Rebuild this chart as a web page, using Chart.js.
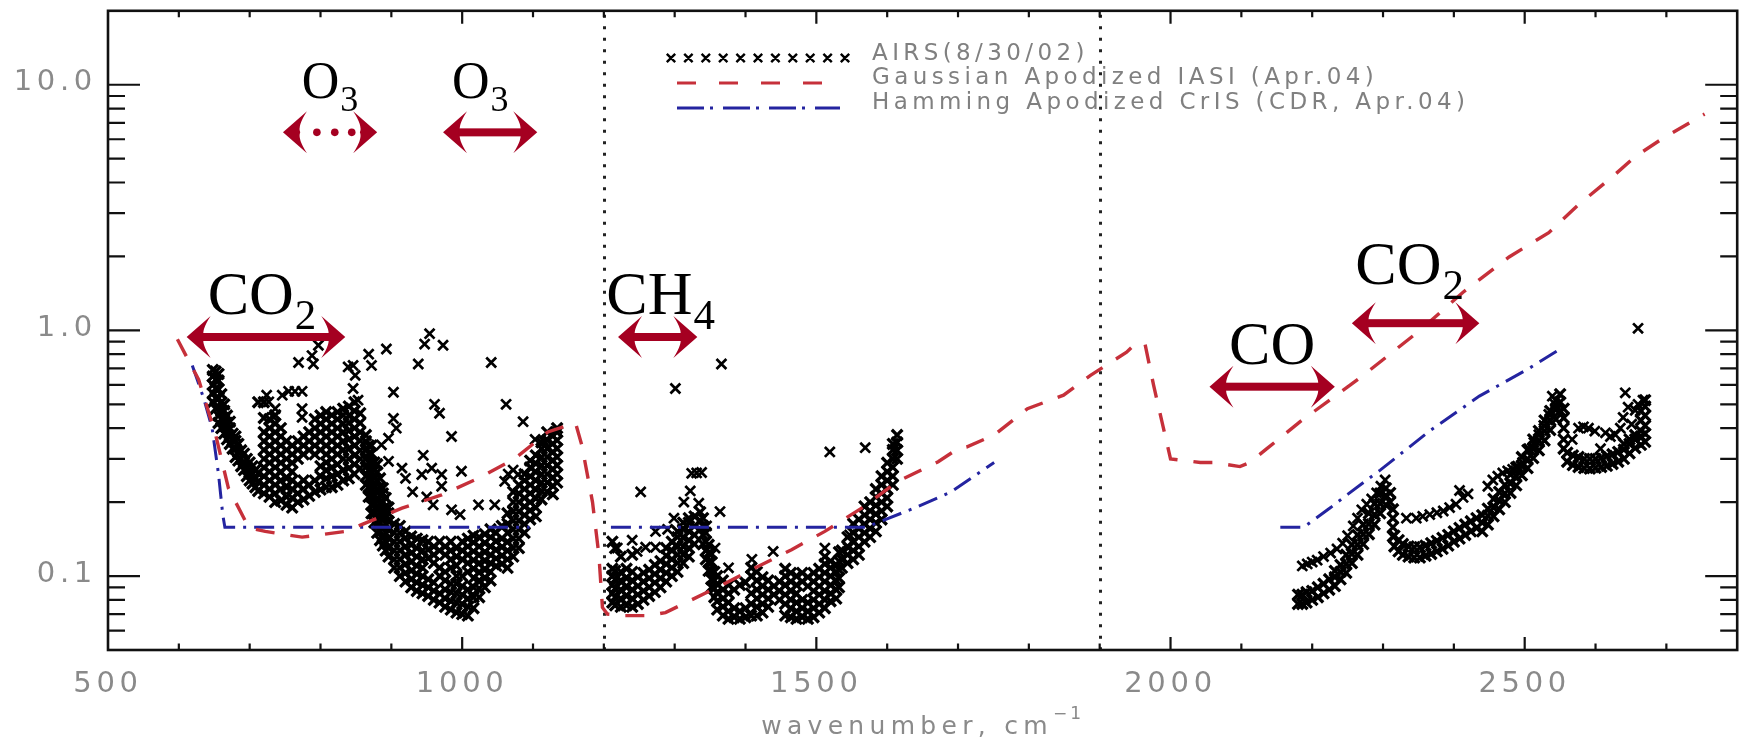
<!DOCTYPE html>
<html>
<head>
<meta charset="utf-8">
<title>Instrument noise vs wavenumber: AIRS, IASI, CrIS</title>
<script src="https://cdn.jsdelivr.net/npm/chart.js@4.4.1/dist/chart.umd.min.js"></script>
<style>
  html, body { margin: 0; padding: 0; background: #ffffff; }
  #wrap { width: 1748px; height: 744px; }
</style>
</head>
<body>
<div id="wrap"><canvas id="c" width="1748" height="744"></canvas></div>
<script>
// ---------- axes ----------
const xTicks = [500, 1000, 1500, 2000, 2500];
const yTicks = [0.1, 1, 10];
const yTickText = ['0.1', '1.0', '10.0'];
const bandEdges = [1200, 1900];            // dotted separators between spectral bands
const xTitle = 'wavenumber, cm';
const xTitleSup = '\u22121';
const legendLabels = ['AIRS(8/30/02)', 'Gaussian Apodized IASI (Apr.04)', 'Hamming Apodized CrIS (CDR, Apr.04)'];

// ---------- IASI, Gaussian apodized: [wavenumber, value] ----------
const iasiGaussian = [[598,0.92],[628,0.63],[652,0.375],[670,0.228],[699,0.157],[722,0.152],[774,0.144],[835,0.152],[858,0.162],[915,0.189],[971,0.214],[1023,0.25],[1074,0.30],[1121,0.386],[1155,0.415],[1160,0.42],[1169,0.34],[1184,0.20],[1193,0.122],[1198,0.0745],[1205,0.07],[1230,0.069],[1263,0.069],[1287,0.071],[1320,0.079],[1367,0.092],[1414,0.108],[1465,0.128],[1512,0.152],[1564,0.189],[1615,0.243],[1672,0.292],[1700,0.33],[1712,0.335],[1751,0.375],[1798,0.48],[1849,0.545],[1887,0.656],[1938,0.815],[1950,0.88],[1964,0.88],[1976,0.60],[1990,0.40],[2000,0.30],[2042,0.29],[2060,0.29],[2098,0.279],[2112,0.29],[2136,0.33],[2183,0.425],[2272,0.656],[2352,1.0],[2413,1.43],[2478,1.99],[2534,2.5],[2576,3.25],[2623,4.2],[2656,5.1],[2693,6.0],[2754,7.6]];

// ---------- CrIS, Hamming apodized, three bands ----------
const crisLW = [[619,0.72],[635,0.53],[647,0.40],[656,0.26],[662,0.178],[665,0.158],[1095,0.158]];
const crisMW = [[1210,0.158],[1570,0.158],[1640,0.19],[1690,0.22],[1751,0.29]];
const crisSW = [[2155,0.158],[2188,0.158],[2226,0.19],[2250,0.215],[2296,0.27],[2366,0.39],[2436,0.54],[2506,0.70],[2550,0.84]];

// ---------- AIRS channels: [wavenumber, values at that wavenumber...] ----------
const airsLW = [
[648,0.51,0.555,0.60,0.65,0.69],[652,0.48,0.53,0.58,0.63,0.68],[656,0.42,0.45,0.49,0.53,0.575,0.625,0.665],
[660,0.40,0.435,0.47,0.51,0.55],[664,0.38,0.41,0.44,0.47,0.50],[668,0.36,0.39,0.42,0.45],
[672,0.345,0.37,0.40,0.425],[676,0.33,0.355,0.38],[680,0.305,0.33,0.355,0.37],[684,0.295,0.32,0.345],
[688,0.28,0.30,0.325],[692,0.27,0.29,0.315],[696,0.255,0.275,0.30],[700,0.245,0.265,0.29],
[704,0.238,0.26,0.28],[708,0.23,0.25,0.27],[712,0.222,0.242,0.262,0.51],
[720,0.217,0.235,0.255,0.277,0.30,0.326,0.354,0.385,0.44,0.51],
[728,0.21,0.226,0.245,0.266,0.289,0.313,0.34,0.37,0.40,0.435],
[736,0.20,0.217,0.235,0.255,0.277,0.30,0.326,0.354,0.385,0.417,0.452],
[744,0.203,0.226,0.245,0.266,0.289,0.313,0.34,0.37,0.40],
[752,0.195,0.21,0.23,0.25,0.277,0.30,0.326,0.354],
[760,0.19,0.208,0.226,0.245,0.266,0.289,0.313,0.34],
[768,0.20,0.217,0.235,0.30,0.326,0.354],[776,0.205,0.226,0.245,0.313,0.34,0.37],
[784,0.212,0.235,0.326,0.354,0.385],[792,0.22,0.245,0.313,0.34,0.37,0.40,0.435],
[800,0.225,0.255,0.28,0.326,0.354,0.385,0.417,0.45],
[808,0.23,0.25,0.27,0.29,0.313,0.34,0.37,0.40,0.435,0.465],
[816,0.23,0.255,0.277,0.30,0.326,0.354,0.385,0.417,0.452],
[824,0.235,0.26,0.285,0.313,0.34,0.37,0.40,0.435,0.465],
[832,0.245,0.27,0.30,0.326,0.354,0.385,0.417,0.452,0.48],
[840,0.25,0.275,0.30,0.33,0.36,0.39,0.42,0.45,0.49],
[848,0.26,0.285,0.31,0.34,0.37,0.40,0.435,0.47,0.51],
[856,0.275,0.30,0.325,0.355,0.385,0.42,0.46],
[864,0.235,0.255,0.277,0.30,0.326,0.354,0.375],
[868,0.21,0.23,0.25,0.27,0.29,0.315,0.34],
[872,0.18,0.195,0.21,0.228,0.247,0.267,0.29,0.315,0.34],
[876,0.165,0.18,0.195,0.212,0.23,0.25,0.27,0.29],
[880,0.15,0.163,0.177,0.192,0.208,0.226,0.245,0.265,0.285],
[884,0.14,0.152,0.165,0.18,0.196,0.213,0.23,0.25],
[888,0.133,0.145,0.157,0.17,0.185,0.2,0.217,0.228],
[892,0.127,0.138,0.15,0.163,0.177,0.192,0.208],
[896,0.12,0.13,0.142,0.154,0.167,0.18,0.19],
[904,0.108,0.117,0.127,0.138,0.15,0.163],
[912,0.10,0.108,0.117,0.127,0.138,0.15,0.16],
[920,0.095,0.103,0.112,0.122,0.132,0.143,0.152],
[928,0.09,0.097,0.105,0.114,0.124,0.134,0.145],
[936,0.087,0.094,0.102,0.11,0.12,0.13,0.142],
[944,0.085,0.092,0.10,0.108,0.117,0.127,0.14],
[952,0.083,0.09,0.097,0.118,0.128,0.138],
[960,0.08,0.087,0.094,0.113,0.122,0.132],
[968,0.078,0.085,0.10,0.108,0.127,0.138],
[976,0.075,0.081,0.088,0.096,0.104,0.122,0.132],
[984,0.073,0.079,0.086,0.093,0.108,0.117,0.127,0.138],
[992,0.071,0.078,0.085,0.093,0.10,0.11,0.12,0.13],
[1000,0.07,0.077,0.084,0.091,0.10,0.117,0.127,0.138],
[1008,0.069,0.075,0.081,0.088,0.104,0.113,0.122,0.132,0.142],
[1016,0.074,0.082,0.09,0.098,0.107,0.116,0.126,0.137,0.146],
[1024,0.082,0.089,0.096,0.104,0.113,0.122,0.132,0.144],
[1032,0.09,0.098,0.106,0.115,0.125,0.136,0.148],
[1040,0.096,0.104,0.113,0.122,0.132,0.144,0.155],
[1048,0.11,0.118,0.128,0.139,0.15],
[1056,0.112,0.121,0.131,0.142,0.16],
[1064,0.108,0.117,0.127,0.138,0.15,0.163,0.18],
[1072,0.12,0.13,0.142,0.155,0.168,0.183,0.2,0.22],
[1080,0.13,0.142,0.155,0.168,0.183,0.2,0.217,0.235],
[1088,0.15,0.163,0.177,0.192,0.208,0.226,0.245,0.26],
[1096,0.17,0.185,0.2,0.217,0.235,0.255,0.277,0.295],
[1104,0.175,0.19,0.207,0.225,0.245,0.265,0.287,0.31],
[1112,0.205,0.222,0.24,0.26,0.282,0.305,0.33,0.35],
[1120,0.22,0.24,0.26,0.282,0.305,0.33,0.357,0.385],
[1128,0.215,0.233,0.252,0.273,0.296,0.32,0.346,0.372],
[1134,0.24,0.26,0.282,0.305,0.33,0.357,0.385,0.40]
];
const airsMW = [
[1212,0.078,0.085,0.092,0.10,0.107,0.138],[1216,0.076,0.082,0.089,0.097,0.105,0.13],
[1224,0.075,0.081,0.088,0.096,0.104,0.12],[1232,0.076,0.083,0.09,0.098,0.107],
[1240,0.075,0.081,0.088,0.096,0.104,0.122],[1248,0.077,0.084,0.091,0.099],
[1256,0.08,0.087,0.095,0.103],[1264,0.083,0.09,0.098,0.106],[1272,0.086,0.094,0.102,0.111],
[1280,0.09,0.098,0.106,0.115],[1288,0.095,0.103,0.112,0.121,0.13],[1296,0.10,0.108,0.117,0.127,0.138],
[1304,0.104,0.113,0.122,0.132,0.144,0.152],[1312,0.113,0.122,0.132,0.143,0.155,0.165],
[1320,0.12,0.13,0.14,0.152,0.165,0.172],[1328,0.135,0.147,0.16,0.175],[1336,0.155,0.168,0.182],
[1340,0.135,0.147,0.16,0.172],[1344,0.117,0.127,0.138,0.15],[1348,0.105,0.114,0.124,0.134],
[1352,0.09,0.097,0.105,0.114,0.123],[1356,0.082,0.089,0.096,0.104],[1360,0.073,0.079,0.086,0.093,0.10],
[1368,0.069,0.075,0.081,0.088,0.096],[1376,0.067,0.072,0.078,0.085,0.092],[1384,0.068,0.074,0.088],
[1392,0.067,0.072,0.092],[1400,0.068,0.074,0.094],[1408,0.069,0.077,0.085,0.10,0.108],
[1416,0.069,0.075,0.081,0.088,0.096,0.104],[1424,0.071,0.077,0.084,0.091,0.099],
[1432,0.075,0.081,0.088,0.096],[1440,0.084,0.091],[1448,0.08,0.087,0.095],
[1456,0.069,0.077,0.084,0.092,0.10,0.107],[1464,0.068,0.074,0.08,0.087,0.095,0.103],
[1472,0.067,0.072,0.078,0.085,0.092,0.10],[1480,0.068,0.074,0.08,0.095,0.103],
[1488,0.067,0.072,0.078,0.091,0.099],[1496,0.068,0.074,0.08,0.087,0.095,0.103],
[1504,0.071,0.077,0.084,0.091,0.099,0.107],[1512,0.074,0.08,0.087,0.095,0.103,0.112,0.12],
[1520,0.079,0.085,0.092,0.10,0.108,0.115],[1528,0.081,0.088,0.096,0.104,0.111],
[1532,0.09,0.098,0.106,0.115,0.125],[1536,0.108,0.117,0.127],[1544,0.113,0.122,0.132,0.144],
[1552,0.117,0.127,0.138,0.15,0.163],[1560,0.122,0.132,0.144,0.156,0.17],
[1568,0.138,0.15,0.163,0.177,0.192],[1576,0.144,0.156,0.17,0.184,0.2],
[1584,0.152,0.165,0.179,0.194,0.21,0.226],[1592,0.17,0.184,0.2,0.217,0.235,0.255],
[1600,0.192,0.208,0.226,0.245,0.266,0.289],[1608,0.235,0.255,0.277,0.30,0.326,0.345],
[1614,0.30,0.325,0.35,0.375]
];
const airsSW = [
[2180,0.077,0.084],[2186,0.077,0.084],[2192,0.078,0.086],[2200,0.08,0.087],[2208,0.082,0.09],
[2216,0.085,0.093],[2224,0.088,0.097],[2232,0.091,0.099,0.105],[2240,0.097,0.104,0.111],
[2248,0.103,0.112,0.122],[2256,0.113,0.123,0.134],[2264,0.122,0.134,0.147],[2272,0.135,0.148,0.162],
[2280,0.148,0.163,0.18],[2288,0.162,0.178,0.197],[2296,0.18,0.197,0.217],[2304,0.195,0.213,0.228],
[2310,0.2,0.218],[2314,0.145,0.158,0.172,0.187],
[2316,0.132,0.146],[2322,0.126,0.14],[2328,0.122,0.135],[2336,0.12,0.132],[2344,0.119,0.131],
[2352,0.119,0.131],[2360,0.121,0.133],[2368,0.123,0.136],[2376,0.126,0.139],[2384,0.129,0.143],
[2392,0.133,0.147],[2400,0.138,0.152],[2408,0.142,0.157],[2416,0.147,0.162],[2424,0.152,0.167],
[2432,0.157,0.172],[2440,0.152,0.165,0.177],[2448,0.162,0.176,0.188],[2456,0.175,0.19,0.206],
[2464,0.187,0.203,0.22],[2472,0.2,0.217,0.235],[2480,0.218,0.238,0.259],[2488,0.234,0.255,0.277],
[2496,0.257,0.28,0.305],[2504,0.275,0.3,0.326],[2512,0.302,0.33,0.36],[2520,0.325,0.355,0.39],
[2528,0.356,0.39,0.43],[2536,0.393,0.43,0.47],[2544,0.435,0.475,0.52],[2550,0.47,0.51,0.55],
[2555,0.33,0.36,0.40,0.44,0.48],[2560,0.292,0.318],[2568,0.283,0.31],[2576,0.278,0.305],
[2584,0.275,0.30],[2592,0.274,0.30],[2600,0.276,0.30],[2608,0.278,0.303],[2616,0.281,0.308],
[2624,0.286,0.313],[2632,0.292,0.32],[2640,0.30,0.327,0.345],[2648,0.316,0.345,0.36],
[2656,0.332,0.36,0.375],[2664,0.342,0.37,0.39,0.43,0.47],[2670,0.352,0.38,0.41,0.45,0.49,0.52]
];
// isolated AIRS channels: [wavenumber, value]
const airsStrayLW = [[769,0.74],[788,0.79],[790,0.73],[797,0.87],[839,0.71],[846,0.72],[849,0.656],[846,0.58],[853,0.52],[868,0.80],[872,0.72],[893,0.84],[903,0.56],[938,0.73],[947,0.88],[954,0.97],[973,0.87],[1041,0.74],[1062,0.50],[961,0.50],[968,0.46],[985,0.37],[1086,0.425],[945,0.31],[903,0.438],[907,0.40],[896,0.364],[886,0.342],[896,0.293],[915,0.275],[943,0.259],[957,0.275],[971,0.259],[999,0.267],[971,0.232],[959,0.195],[985,0.186],[997,0.178],[1023,0.195],[1046,0.195],[1060,0.243],[1079,0.259],[1098,0.275],[1116,0.353],[727,0.512],[736,0.48],[746,0.545],[755,0.565],[764,0.565],[774,0.565],[774,0.48],[774,0.443],[734,0.443],[724,0.545],[1103,0.36],[1065,0.26],[1072,0.27],[920,0.25],[930,0.22],[950,0.21]];
const airsStrayMW = [[1252,0.22],[1273,0.152],[1301,0.58],[1366,0.73],[1519,0.32],[1569,0.333],[1364,0.183],[1324,0.262],[1331,0.263],[1338,0.264],[1322,0.222],[1313,0.20],[1299,0.172],[1334,0.198],[1219,0.13],[1240,0.14],[1247,0.126],[1259,0.131],[1273,0.131],[1301,0.133],[1357,0.13],[1376,0.108],[1409,0.117],[1439,0.126],[1512,0.13],[1545,0.13],[1547,0.147],[1290,0.155],[1345,0.16]];
const airsStraySW = [[2186,0.11],[2193,0.112],[2200,0.114],[2207,0.116],[2216,0.12],[2226,0.124],[2235,0.129],[2243,0.136],[2250,0.146],[2258,0.16],[2264,0.172],[2270,0.186],[2277,0.196],[2284,0.206],[2291,0.218],[2297,0.232],[2303,0.246],[2333,0.172],[2347,0.172],[2356,0.175],[2366,0.178],[2376,0.181],[2385,0.184],[2394,0.19],[2403,0.196],[2408,0.223],[2413,0.209],[2420,0.216],[2448,0.232],[2455,0.246],[2462,0.255],[2469,0.263],[2476,0.268],[2483,0.272],[2490,0.28],[2497,0.29],[2506,0.33],[2513,0.35],[2520,0.376],[2527,0.41],[2534,0.455],[2543,0.50],[2539,0.54],[2567,0.36],[2576,0.40],[2583,0.405],[2590,0.40],[2599,0.389],[2607,0.33],[2614,0.383],[2621,0.37],[2628,0.376],[2635,0.40],[2639,0.442],[2642,0.557],[2646,0.487],[2651,0.415],[2656,0.473],[2660,0.50],[2667,0.52],[2660,1.02]];

// ---------- absorber bands marked with arrows ----------
const gasFormula = [['O','3'],['O','3'],['CO','2'],['CH','4'],['CO',''],['CO','2']];
const gasSpans = [[747,880],[973,1106],[611,835],[1220,1332],[2055,2232],[2256,2436]];
const gasLevels = [6.4, 6.4, 0.94, 0.94, 0.59, 1.07];

// ---------- styling ----------
const ink = '#111111';
const labelGray = '#8a8a8a';
const iasiRed = 'rgb(198, 48, 58)';
const crisBlue = 'rgb(36, 36, 160)';
const arrowRed = '#a50021';
const gasStyle = [
  {size: 52, dx: 0,   dy: 34, dotted: true},
  {size: 52, dx: -10, dy: 34},
  {size: 62, dx: -4,  dy: 23},
  {size: 62, dx: 3,   dy: 23},
  {size: 62, dx: 0,   dy: 23},
  {size: 62, dx: -6,  dy: 39}
];

const pairsToPts = list => list.map(([x, y]) => ({x, y}));
const columnsToPts = cols => cols.flatMap(([x, ...vals]) => vals.map(y => ({x, y})));

const airsDense = [...columnsToPts(airsLW), ...columnsToPts(airsMW), ...columnsToPts(airsSW)];
const airsLoose = [...pairsToPts(airsStrayLW), ...pairsToPts(airsStrayMW), ...pairsToPts(airsStraySW)];

function lineSet(label, pts, color, dash, width, order) {
  return {label, data: pairsToPts(pts), showLine: true, borderColor: color, borderWidth: width,
          borderDash: dash, pointRadius: 0, fill: false, tension: 0, order};
}
function airsSet(pts, radius, width) {
  return {label: legendLabels[0], data: pts, showLine: false, pointStyle: 'crossRot',
          pointRadius: radius, pointHoverRadius: radius, borderColor: '#000',
          backgroundColor: 'rgba(0,0,0,0)', borderWidth: width, order: 5};
}

// ---------- drawing helpers ----------
function arrowHead(ctx, tip, yy, dir) {
  const L = 24, H = 21;
  const back = tip - dir * L;
  ctx.beginPath();
  ctx.moveTo(tip, yy);
  ctx.lineTo(back, yy - H);
  ctx.quadraticCurveTo(tip - dir * L * 0.6, yy - H * 0.3, tip - dir * L * 0.72, yy);
  ctx.quadraticCurveTo(tip - dir * L * 0.6, yy + H * 0.3, back, yy + H);
  ctx.closePath();
  ctx.fill();
}

function drawFrameAndTicks(chart) {
  const {ctx, chartArea: a, scales: {x, y}} = chart;
  ctx.save();
  ctx.strokeStyle = ink;
  ctx.lineWidth = 2.2;
  ctx.beginPath();
  for (let v = 600; v < 2800; v += 100) {
    const px = x.getPixelForValue(v);
    const len = v % 500 === 0 ? 13 : 6.5;
    ctx.moveTo(px, a.bottom); ctx.lineTo(px, a.bottom - len);
    ctx.moveTo(px, a.top);    ctx.lineTo(px, a.top + len);
  }
  [0.01, 0.1, 1, 10].forEach(d => {
    for (let k = 1; k <= 9; k++) {
      const v = d * k;
      if (v <= 0.05 || v >= 20) continue;
      const py = y.getPixelForValue(v);
      const len = k === 1 ? 32 : 17;
      ctx.moveTo(a.left, py);  ctx.lineTo(a.left + len, py);
      ctx.moveTo(a.right, py); ctx.lineTo(a.right - len, py);
    }
  });
  ctx.stroke();
  ctx.lineWidth = 2.6;
  ctx.strokeRect(a.left, a.top, a.right - a.left, a.bottom - a.top);
  ctx.restore();
}

function drawBandEdges(chart) {
  const {ctx, chartArea: a, scales: {x}} = chart;
  ctx.save();
  ctx.strokeStyle = '#222';
  ctx.lineWidth = 3;
  ctx.setLineDash([3, 8.5]);
  bandEdges.forEach(v => {
    const px = Math.round(x.getPixelForValue(v)) + 0.5;
    ctx.beginPath(); ctx.moveTo(px, a.top + 4); ctx.lineTo(px, a.bottom); ctx.stroke();
  });
  ctx.restore();
}

function drawGasBands(chart) {
  const {ctx, scales: {x, y}} = chart;
  ctx.save();
  ctx.letterSpacing = '0px';
  gasSpans.forEach((span, i) => {
    const st = gasStyle[i];
    const x1 = x.getPixelForValue(span[0]);
    const x2 = x.getPixelForValue(span[1]);
    const yy = y.getPixelForValue(gasLevels[i]);
    ctx.fillStyle = arrowRed;
    arrowHead(ctx, x1, yy, -1);
    arrowHead(ctx, x2, yy, 1);
    if (st.dotted) {
      [0.36, 0.55, 0.73].forEach(f => {
        ctx.beginPath(); ctx.arc(x1 + (x2 - x1) * f, yy, 3.8, 0, Math.PI * 2); ctx.fill();
      });
    } else {
      ctx.fillRect(x1 + 15, yy - 4, x2 - x1 - 30, 8);
    }
    const [main, sub] = gasFormula[i];
    const subSize = Math.round(st.size * 0.7);
    ctx.fillStyle = '#000';
    ctx.textBaseline = 'alphabetic';
    ctx.textAlign = 'left';
    ctx.font = `${st.size}px "Liberation Serif", "Times New Roman", serif`;
    const w1 = ctx.measureText(main).width;
    ctx.font = `${subSize}px "Liberation Serif", "Times New Roman", serif`;
    const w2 = sub ? ctx.measureText(sub).width + 1 : 0;
    const left = (x1 + x2) / 2 + st.dx - (w1 + w2) / 2;
    const base = yy - st.dy;
    ctx.font = `${st.size}px "Liberation Serif", "Times New Roman", serif`;
    ctx.fillText(main, left, base);
    if (sub) {
      ctx.font = `${subSize}px "Liberation Serif", "Times New Roman", serif`;
      ctx.fillText(sub, left + w1 + 1, base + st.size * 0.24);
    }
  });
  ctx.restore();
}

function drawLegend(chart) {
  const ctx = chart.ctx;
  ctx.save();
  ctx.strokeStyle = '#000';
  ctx.lineWidth = 2.4;
  ctx.beginPath();
  for (let i = 0; i < 11; i++) {
    const cx = 671 + i * 17.4, cy = 58, h = 4.2;
    ctx.moveTo(cx - h, cy - h); ctx.lineTo(cx + h, cy + h);
    ctx.moveTo(cx - h, cy + h); ctx.lineTo(cx + h, cy - h);
  }
  ctx.stroke();
  ctx.lineWidth = 3.2;
  ctx.strokeStyle = iasiRed;
  ctx.setLineDash([19, 23]);
  ctx.beginPath(); ctx.moveTo(677, 83); ctx.lineTo(822, 83); ctx.stroke();
  ctx.lineWidth = 3;
  ctx.strokeStyle = crisBlue;
  ctx.setLineDash([27, 6, 3, 10]);
  ctx.beginPath(); ctx.moveTo(677, 108); ctx.lineTo(840, 108); ctx.stroke();
  ctx.setLineDash([]);
  ctx.fillStyle = '#808080';
  ctx.font = '23px "DejaVu Sans", sans-serif';
  ctx.letterSpacing = '4.4px';
  ctx.textAlign = 'left';
  ctx.textBaseline = 'alphabetic';
  [59.5, 84, 109].forEach((by, i) => ctx.fillText(legendLabels[i], 872, by));
  ctx.restore();
}

function drawXTitle(chart) {
  const {ctx, chartArea: a} = chart;
  ctx.save();
  ctx.fillStyle = labelGray;
  ctx.textAlign = 'left';
  ctx.textBaseline = 'alphabetic';
  ctx.letterSpacing = '5.3px';
  ctx.font = '25px "DejaVu Sans", sans-serif';
  const w1 = ctx.measureText(xTitle).width;
  ctx.font = '17px "DejaVu Sans", sans-serif';
  ctx.letterSpacing = '3px';
  const w2 = ctx.measureText(xTitleSup).width;
  const left = (a.left + a.right) / 2 - (w1 + w2) / 2;
  ctx.letterSpacing = '5.3px';
  ctx.font = '25px "DejaVu Sans", sans-serif';
  ctx.fillText(xTitle, left, 734);
  ctx.letterSpacing = '3px';
  ctx.font = '17px "DejaVu Sans", sans-serif';
  ctx.fillText(xTitleSup, left + w1, 719);
  ctx.restore();
}

const decorations = {
  id: 'decorations',
  beforeDraw(chart) { chart.ctx.letterSpacing = '4.7px'; },
  beforeDatasetsDraw(chart) { chart.ctx.letterSpacing = '0px'; drawBandEdges(chart); },
  afterDraw(chart) {
    chart.ctx.letterSpacing = '0px';
    drawFrameAndTicks(chart);
    drawGasBands(chart);
    drawLegend(chart);
    drawXTitle(chart);
  }
};

new Chart(document.getElementById('c'), {
  type: 'scatter',
  data: {
    datasets: [
      lineSet(legendLabels[1], iasiGaussian, iasiRed, [19, 16], 3.4, 1),
      lineSet(legendLabels[2], crisLW, crisBlue, [20, 8, 3, 8], 3, 2),
      lineSet(legendLabels[2], crisMW, crisBlue, [20, 8, 3, 8], 3, 2),
      lineSet(legendLabels[2], crisSW, crisBlue, [20, 8, 3, 8], 3, 2),
      airsSet(airsDense, 7.5, 3.3),
      airsSet(airsLoose, 7, 2.7)
    ]
  },
  options: {
    responsive: false,
    animation: false,
    devicePixelRatio: 1,
    events: [],
    layout: {padding: {top: 6, right: 7, left: 0, bottom: 0}},
    plugins: {legend: {display: false}, tooltip: {enabled: false}, title: {display: false}},
    scales: {
      x: {
        type: 'linear', position: 'bottom', min: 500, max: 2800,
        afterBuildTicks: s => { s.ticks = xTicks.map(value => ({value})); },
        afterFit: s => { s.height = 94; s.paddingLeft = 0; s.paddingRight = 0; },
        grid: {display: false, drawTicks: false},
        border: {display: false},
        ticks: {color: labelGray, font: {family: '"DejaVu Sans", sans-serif', size: 29}, padding: 17,
                maxRotation: 0, autoSkip: false, callback: v => String(v)}
      },
      y: {
        type: 'logarithmic', position: 'left', min: 0.05, max: 20,
        afterBuildTicks: s => { s.ticks = yTicks.map(value => ({value})); },
        afterFit: s => { s.width = 108; s.paddingTop = 0; s.paddingBottom = 0; },
        grid: {display: false, drawTicks: false},
        border: {display: false},
        ticks: {color: labelGray, font: {family: '"DejaVu Sans", sans-serif', size: 29}, padding: 11,
                autoSkip: false, labelOffset: -2,
                callback: v => { const i = yTicks.indexOf(v); return i >= 0 ? yTickText[i] : ''; }}
      }
    }
  },
  plugins: [decorations]
});
</script>
</body>
</html>
